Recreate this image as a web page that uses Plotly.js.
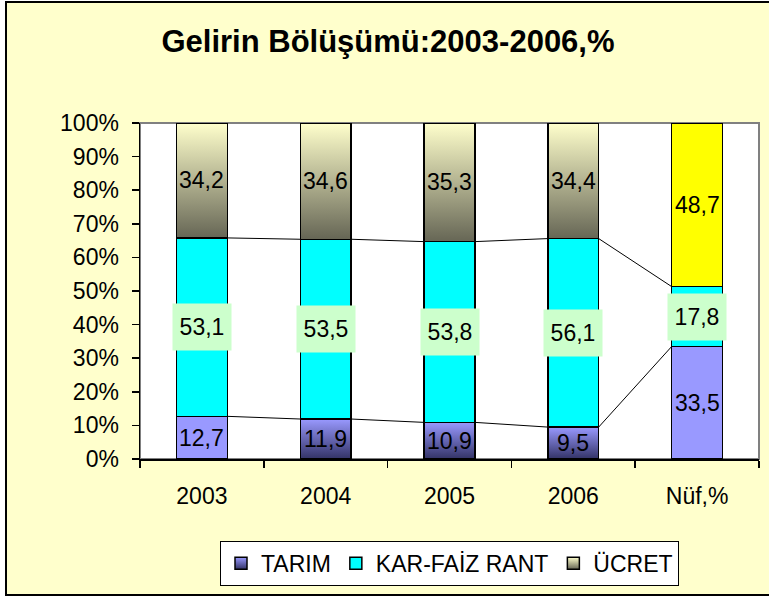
<!DOCTYPE html>
<html>
<head>
<meta charset="utf-8">
<script src="https://cdn.plot.ly/plotly-3.0.1.min.js"></script>
<style>
  html, body { margin: 0; padding: 0; background: #ffffff; width: 769px; height: 597px; overflow: hidden; }
  #frame { position: absolute; left: 5px; top: 1px; width: 770px; height: 591px;
           border-left: 2px solid #000; border-top: 2px solid #000; border-bottom: 2px solid #000;
           background: #FFFFCC; }
  #chart { position: absolute; left: 0; top: 0; width: 762px; height: 591px; }
</style>
</head>
<body>
<div id="frame"><div id="chart"></div></div>
<script>
// ---- data ----
const categories = ['2003', '2004', '2005', '2006', 'Nüf,%'];
const tarim   = [12.7, 11.9, 10.9, 9.5, 33.5];
const karFaiz = [53.1, 53.5, 53.8, 56.1, 17.8];
const ucret   = [34.2, 34.6, 35.3, 34.4, 48.7];
const seriesNames = ['TARIM', 'KAR-FAİZ RANT', 'ÜCRET'];
const titleText = 'Gelirin Bölüşümü:2003-2006,%';

// ---- styles ----
const FONT = 'Liberation Sans, Arial, sans-serif';
const barWidth = 0.41;
const tarimColors = ['#9999FF', '#9999FF', '#9999FF', '#9999FF', '#9999FF'];
const tarimGradient = [false, true, true, true, false];
const karColors = ['#00FFFF', '#00FFFF', '#00FFFF', '#00FFFF', '#00FFFF'];
const ucretColors = ['#CCCCA0', '#CCCCA0', '#CCCCA0', '#CCCCA0', '#FFFF00'];
const ucretGradient = [true, true, true, true, false];

const xs = categories.map((_, i) => i);
const cumT = tarim.slice();
const cumTK = tarim.map((v, i) => v + karFaiz[i]);
const fmt = v => v.toFixed(1).replace('.', ',');

function barTrace(name, vals, colors) {
  return {
    type: 'bar', name: name, x: xs, y: vals, width: barWidth,
    marker: { color: colors, line: { color: '#000000', width: 1.5 } },
    hoverinfo: 'skip'
  };
}

function seriesLine(cum) {
  const x = [], y = [];
  for (let i = 0; i < cum.length - 1; i++) {
    x.push(i + barWidth / 2, i + 1 - barWidth / 2, null);
    y.push(cum[i], cum[i + 1], null);
  }
  return { type: 'scatter', mode: 'lines', x: x, y: y, showlegend: false,
           line: { color: '#000000', width: 1 }, hoverinfo: 'skip', connectgaps: false };
}

const data = [
  barTrace(seriesNames[0], tarim, tarimColors),
  barTrace(seriesNames[1], karFaiz, karColors),
  barTrace(seriesNames[2], ucret, ucretColors),
  seriesLine(cumT),
  seriesLine(cumTK)
];

const annotations = [];
xs.forEach(i => {
  annotations.push({ x: i, y: tarim[i] / 2, xref: 'x', yref: 'y', text: fmt(tarim[i]),
    showarrow: false, font: { family: FONT, size: 23, color: '#000' } });
  annotations.push({ x: i, y: tarim[i] + karFaiz[i] / 2, xref: 'x', yref: 'y', text: fmt(karFaiz[i]),
    showarrow: false, font: { family: FONT, size: 23, color: '#000' },
    bgcolor: '#CCFFCC', width: 50, height: 38, borderpad: 4 });
  annotations.push({ x: i, y: cumTK[i] + ucret[i] / 2, xref: 'x', yref: 'y', text: fmt(ucret[i]),
    showarrow: false, font: { family: FONT, size: 23, color: '#000' } });
});

const layout = {
  width: 762, height: 591,
  paper_bgcolor: '#FFFFCC', plot_bgcolor: '#FFFFFF',
  margin: { l: 133, r: 10, t: 120, b: 135 },
  font: { family: FONT, size: 23, color: '#000' },
  title: { text: '<b>' + titleText + '</b>', font: { family: FONT, size: 31, color: '#000' },
           xref: 'container', x: 0.5, xanchor: 'center', yref: 'container', y: 0.936, yanchor: 'middle' },
  barmode: 'stack',
  hovermode: false,
  showlegend: true,
  legend: { orientation: 'h', x: 0.5, xref: 'paper', xanchor: 'center',
            y: 0.014, yref: 'container', yanchor: 'bottom',
            bgcolor: '#FFFFFF', bordercolor: '#000000', borderwidth: 1,
            font: { family: FONT, size: 23, color: '#000' }, traceorder: 'normal', itemwidth: 30 },
  xaxis: {
    range: [-0.5, xs.length - 0.5], tickmode: 'array', tickvals: xs, ticktext: categories,
    ticks: '', showgrid: false, zeroline: false, showline: true, linecolor: '#000', linewidth: 1.5,
    tickfont: { family: FONT, size: 23, color: '#000' }, ticklabelstandoff: 16,
    minor: { tickmode: 'linear', tick0: 0.5, dtick: 1, ticks: 'outside', ticklen: 7, tickcolor: '#000', tickwidth: 1.5, showgrid: false },
    fixedrange: true
  },
  yaxis: {
    range: [0, 100], tickmode: 'linear', tick0: 0, dtick: 10, ticksuffix: '%',
    ticks: 'outside', ticklen: 7, tickcolor: '#000', tickwidth: 1.5,
    showgrid: false, zeroline: false, showline: true, linecolor: '#000', linewidth: 1.5,
    tickfont: { family: FONT, size: 23, color: '#000' }, ticklabelstandoff: 8,
    fixedrange: true
  },
  shapes: [
    { type: 'rect', xref: 'paper', yref: 'paper', x0: 0, x1: 1, y0: 0, y1: 1,
      line: { color: '#808080', width: 2 }, layer: 'below' }
  ],
  annotations: annotations
};

function applyGradients(gd) {
  const ns = 'http://www.w3.org/2000/svg';
  const svg = gd.querySelector('.main-svg');
  let defs = svg.querySelector('defs');
  if (!defs) { defs = document.createElementNS(ns, 'defs'); svg.insertBefore(defs, svg.firstChild); }
  function grad(id, c1, c2) {
    const g = document.createElementNS(ns, 'linearGradient');
    g.setAttribute('id', id);
    g.setAttribute('x1', '0'); g.setAttribute('y1', '0');
    g.setAttribute('x2', '0'); g.setAttribute('y2', '1');
    [[0, c1], [1, c2]].forEach(([o, c]) => {
      const s = document.createElementNS(ns, 'stop');
      s.setAttribute('offset', o); s.setAttribute('stop-color', c);
      g.appendChild(s);
    });
    defs.appendChild(g);
  }
  grad('gTarim', '#9999FF', '#333366');
  grad('gUcret', '#FFFFCC', '#666655');
  const traces = gd.querySelectorAll('.barlayer .trace');
  const tp = traces[0].querySelectorAll('.point path');
  tarimGradient.forEach((g, i) => { if (g && tp[i]) tp[i].style.fill = 'url(#gTarim)'; });
  const up = traces[2].querySelectorAll('.point path');
  ucretGradient.forEach((g, i) => { if (g && up[i]) up[i].style.fill = 'url(#gUcret)'; });
  const leg = gd.querySelectorAll('.legend .traces');
  if (leg[0]) leg[0].querySelectorAll('.legendpoints path').forEach(p => p.style.fill = 'url(#gTarim)');
  if (leg[2]) leg[2].querySelectorAll('.legendpoints path').forEach(p => p.style.fill = 'url(#gUcret)');
}

Plotly.newPlot('chart', data, layout, { staticPlot: true, displayModeBar: false })
  .then(gd => applyGradients(gd));
</script>
</body>
</html>
